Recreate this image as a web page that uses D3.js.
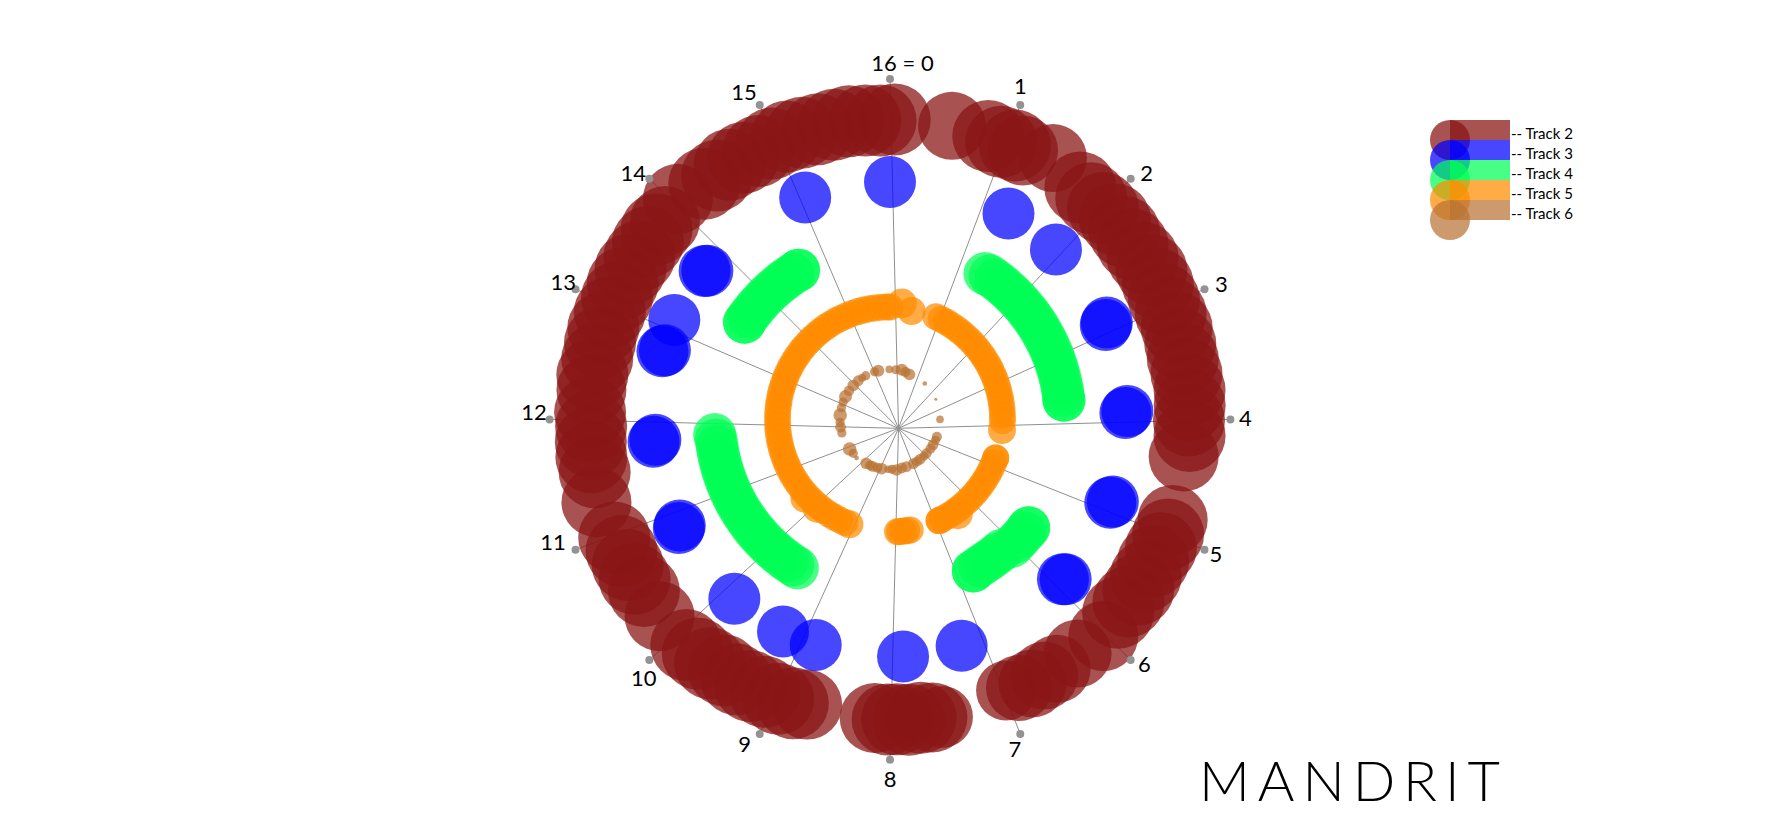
<!DOCTYPE html>
<html>
<head>
<meta charset="utf-8">
<script src="https://cdn.jsdelivr.net/npm/d3@7"></script>
<style>
html,body{margin:0;padding:0;background:#fff;}
svg{display:block;}
</style>
</head>
<body>
<svg id="chart" width="1780" height="840"></svg>
<script>
// ---------------- DATA ----------------
const tickLabels = ["16 = 0","1","2","3","4","5","6","7","8","9","10","11","12","13","14","15"];
const trackIds = [2, 3, 4, 5, 6];
const trackNames = ["Track 2","Track 3","Track 4","Track 5","Track 6"];
const trackColors = ["#8a1616", "#0000ff", "#00ff55", "#ff8c00", "#b87333"];
const trackOpacity = [0.74, 0.72, 0.72, 0.72, 0.72];

// events: [step (0..16), radial offset, size]
const track2 = [
  [12.38,1,36],[12.52,-1,36],[12.66,0,36],[12.79,1,36],[12.93,0,36],[13.07,-1,36],[13.2,0,36],[13.34,0,36],
  [13.47,-1,36],[13.61,0,36],[13.74,1,36],[13.84,0,35],
  [14.05,6,35],
  [14.3,0,36],[14.43,-1,36],[14.57,1,36],[14.7,0,36],[14.84,-1,36],[14.97,0,36],[15.11,1,36],[15.24,0,36],
  [15.38,-1,36],[15.52,0,36],[15.65,1,36],[15.79,0,36],[15.92,-1,36],[0.04,0,36],
  [0.53,0,34],
  [0.85,0,36],[0.97,-1,36],[1.09,1,36],[1.17,0,35],
  [1.42,8,34],
  [1.75,0,36],[1.88,-1,36],[2.01,0,36],[2.15,1,36],[2.28,0,36],[2.41,-1,36],[2.55,0,36],[2.68,1,36],
  [2.81,0,36],[2.95,-1,36],[3.08,0,36],[3.21,1,36],[3.35,0,36],[3.48,-1,36],[3.61,0,36],[3.75,1,36],
  [3.88,0,36],[4.01,-1,36],[4.14,0,36],
  [4.32,-4,35],
  [4.87,0,35],
  [5.0,1,36],[5.13,0,36],[5.26,-1,36],[5.4,0,36],[5.53,1,36],[5.66,0,36],[5.79,-1,36],
  [6.02,4,35],[6.28,0,34],
  [6.5,0,34],[6.62,-1,34],[6.74,0,34],[6.86,-2,33],[6.97,-5,30],
  [7.56,2,31],[7.64,1,35],[7.74,0,36],[7.84,1,36],[7.94,0,36],[8.02,0,36],[8.13,-1,35],
  [8.72,-3,35],
  [8.84,0,36],[8.97,1,36],[9.1,0,36],[9.23,1,36],[9.36,2,36],[9.49,1,36],[9.62,3,36],[9.75,3,36],[9.87,4,36],
  [10.2,3,35],
  [10.45,0,36],[10.58,1,36],[10.71,0,36],[10.84,-1,36],[10.97,0,36],
  [11.3,5,35],
  [11.55,0,36],[11.68,1,36],[11.81,0,36],[11.94,-1,36],[12.06,0,36],
  [12.25,0,35]
];

const track3 = [
  [0.0,0,26],[1.33,0,26],[1.97,0,26],[2.93,0,26],[2.95,-2,26],[3.91,0,26],[3.93,-2,26],
  [4.9,0,26],[4.92,-2,26],[5.88,0,26],[5.9,-2,26],[7.22,0,26],[7.86,0,26],[8.81,0,26],
  [9.19,0,26],[9.82,0,26],[10.79,0,26],[10.81,-2,26],[11.76,0,26],[11.78,-2,26],
  [12.74,0,26],[12.76,-2,26],[13.1,0,26],[13.72,0,26],[13.74,-2,26],[15.07,0,26]
];

const track4 = [
  [1.47,-1,21.5],[1.55,0,21.5],[1.65,0,21.5],[1.75,0,21.5],[1.85,0,21.5],[1.95,0,21.5],[2.05,0,21.5],
  [2.15,0,21.5],[2.25,0,21.5],[2.35,0,21.5],[2.45,0,21.5],[2.55,0,21.5],[2.65,0,21.5],[2.75,0,21.5],
  [2.85,0,21.5],[2.95,0,21.5],[3.05,0,21.5],[3.15,0,21.5],[3.25,0,21.5],[3.35,0,21.5],[3.45,0,21.5],
  [3.55,0,21.5],[3.65,0,21.5],[3.72,0,21.5],[3.72,0,21.5],
  [5.69,1,21.5],[5.69,1,21.5],[5.78,1,21.5],[5.87,1,21.5],[5.96,1,21.5],[6.05,1,21.5],
  [6.2,-3,21.5],[6.3,-3,21.5],[6.4,-3,21.5],[6.5,-3,21.5],[6.6,-3,21.5],[6.72,-2,21.5],[6.72,-2,21.5],
  [9.42,0,21.5],[9.5,0,21.5],[9.6,0,21.5],[9.7,0,21.5],[9.8,0,21.5],[9.9,0,21.5],[10.0,0,21.5],
  [10.1,0,21.5],[10.2,0,21.5],[10.3,0,21.5],[10.4,0,21.5],[10.5,0,21.5],[10.6,0,21.5],[10.7,0,21.5],
  [10.8,0,21.5],[10.9,0,21.5],[11.0,0,21.5],[11.1,0,21.5],[11.2,0,21.5],[11.3,0,21.5],[11.4,0,21.5],
  [11.5,0,21.5],[11.6,0,21.5],[11.7,0,21.5],[11.78,1,21.5],
  [13.5,0,21.5],[13.5,0,21.5],[13.6,0,21.5],[13.7,0,21.5],[13.8,0,21.5],[13.9,0,21.5],[14.0,0,21.5],
  [14.1,0,21.5],[14.2,0,21.5],[14.3,0,21.5],[14.4,0,21.5],[14.5,0,21.5],[14.6,0,21.5],[14.6,0,21.5]
];

const track5 = [
  [1.07,0,13.5],[1.2,0,13.5],[1.34,0,13.5],[1.47,0,13.5],[1.61,0,13.5],[1.74,0,13.5],[1.88,0,13.5],
  [2.01,0,13.5],[2.15,0,13.5],[2.28,0,13.5],[2.42,0,13.5],[2.55,0,13.5],[2.69,0,13.5],[2.82,0,13.5],
  [2.96,0,13.5],[3.09,0,13.5],[3.23,0,13.5],[3.36,0,13.5],[3.5,0,13.5],[3.63,0,13.5],[3.77,0,13.5],
  [3.9,0,13.5],[4.03,0,13.5],[4.24,0,14],
  [4.89,0,13.5],[4.89,0,13.5],[5.02,0,13.5],[5.16,0,13.5],[5.29,0,13.5],[5.43,0,13.5],[5.56,0,13.5],
  [5.7,0,13.5],[5.83,0,13.5],[5.97,0,13.5],[6.1,0,13.5],[6.24,0,13.5],[6.37,0,13.5],[6.42,4,15],
  [6.5,0,13.5],[6.64,0,13.5],[6.77,0,13.5],[6.85,0,13.5],[6.85,0,13.5],
  [7.54,0,13.5],[7.62,0,13.5],[7.7,0,13.5],[7.78,0,13.5],[7.83,0,13.5],
  [8.94,0,14],[9.05,0,13.5],[9.18,0,13.5],[9.32,0,13.5],[9.45,0,13.5],[9.59,0,13.5],[9.72,0,13.5],
  [9.75,3,14],[9.86,0,13.5],[9.99,0,13.5],[10.1,4,14],[10.13,0,13.5],[10.26,0,13.5],[10.4,0,13.5],
  [10.53,0,13.5],[10.67,0,13.5],[10.8,0,13.5],[10.94,0,13.5],[11.07,0,13.5],[11.21,0,13.5],
  [11.34,0,13.5],[11.48,0,13.5],[11.61,0,13.5],[11.75,0,13.5],[11.88,0,13.5],[12.02,0,13.5],
  [12.15,0,13.5],[12.29,0,13.5],[12.42,0,13.5],[12.56,0,13.5],[12.69,0,13.5],[12.83,0,13.5],
  [12.96,0,13.5],[13.1,0,13.5],[13.23,0,13.5],[13.37,0,13.5],[13.5,0,13.5],[13.64,0,13.5],
  [13.77,0,13.5],[13.91,0,13.5],[14.04,0,13.5],[14.18,0,13.5],[14.31,0,13.5],[14.45,0,13.5],
  [14.58,0,13.5],[14.72,0,13.5],[14.85,0,13.5],[14.99,0,13.5],[15.12,0,13.5],[15.26,0,13.5],
  [15.39,0,13.5],[15.53,0,13.5],[15.66,0,13.5],[15.8,0,13.5],[15.93,0,13.5],[0.0,0,13.5],
  [0.26,4,15],[0.5,-2,14]
];

const track6 = [
  [0.3,0,4.6],[0.59,1,6],[0.8,0,5.2],[1.04,-1,5.8],[1.96,0,2.3],[2.95,0,1.5],[4.0,0,3.8],[4.9,0,5],
  [5.1,0,4.6],[5.36,0,5.4],[5.6,0,5],[5.9,0,5],[6.1,0,4.6],[6.35,0,5.4],[6.55,0,5],[6.76,0,5.4],
  [7.15,0,5.4],[7.4,0,5.4],[7.67,1,5.8],[7.9,0,4.6],[8.1,0,3.8],[8.43,0,5.8],[8.65,0,5],[8.9,0,5.4],
  [9.05,0,5],[9.27,0,5.8],[9.82,1,2.3],[10.1,0,4.6],[10.39,0,6.8],[11.3,0,4.6],[11.6,0,5.4],[11.85,0,4.6],
  [12.22,0,6.8],[12.6,0,4.6],[12.9,0,4.6],[13.21,0,6.5],[13.55,0,5.2],[13.9,0,5.8],[14.25,0,5.4],
  [14.5,0,4],[14.71,0,4.6],[15.2,0,4.6],[15.4,0,6],[15.96,0,3.8]
];

// ---------------- LAYOUT ----------------
const CX = 890, CY = 419.4, R_LABEL = 340.4;
const SPOKE_DX = 8.5, SPOKE_DY = 8.9;
const labelNudge = [[12.5,-16.5],[0.2,-18.7],[16,-6],[17,-5.3],[15,-1.6],[11.4,4.3],[13.7,3.9],[-5.3,15],
                    [0,19],[-15,9.7],[-5.6,17.6],[-22.5,-8],[-15.6,-7],[-12.2,-7],[-16,-6],[-15.7,-13]];

const svg = d3.select("#chart");
const angle = d3.scaleLinear().domain([0, 16]).range([0, 2 * Math.PI]);
const radius = d3.scaleLinear().domain([2, 6]).range([300, 50]);
const color = d3.scaleOrdinal().domain(trackIds).range(trackColors);
const opacity = d3.scaleOrdinal().domain(trackIds).range(trackOpacity);
const ticks = d3.range(tickLabels.length);

const g = svg.append("g").attr("transform", `translate(${CX},${CY})`);

// spokes
g.append("g").selectAll("line").data(ticks).join("line")
  .attr("x1", SPOKE_DX).attr("y1", SPOKE_DY)
  .attr("x2", k => d3.pointRadial(angle(k), R_LABEL)[0])
  .attr("y2", k => d3.pointRadial(angle(k), R_LABEL)[1])
  .attr("stroke", "#8f8f8f").attr("stroke-width", 1);

// tracks
[track2, track3, track4, track5, track6].forEach((data, i) => {
  const id = trackIds[i];
  g.append("g").selectAll("circle").data(data).join("circle")
    .attr("cx", d => d3.pointRadial(angle(d[0]), radius(id) + d[1])[0])
    .attr("cy", d => d3.pointRadial(angle(d[0]), radius(id) + d[1])[1])
    .attr("r", d => d[2])
    .attr("fill", color(id))
    .attr("fill-opacity", opacity(id));
});

// tick dots and labels
g.append("g").selectAll("circle").data(ticks).join("circle")
  .attr("cx", k => d3.pointRadial(angle(k), R_LABEL)[0])
  .attr("cy", k => d3.pointRadial(angle(k), R_LABEL)[1])
  .attr("r", 4).attr("fill", "#939393");

g.append("g").selectAll("text").data(ticks).join("text")
  .attr("x", k => d3.pointRadial(angle(k), R_LABEL)[0] + labelNudge[k][0])
  .attr("y", k => d3.pointRadial(angle(k), R_LABEL)[1] + labelNudge[k][1] + 8)
  .attr("text-anchor", "middle")
  .attr("font-family", "Lato, 'DejaVu Sans', sans-serif")
  .attr("font-size", 22)
  .attr("fill", "#000")
  .text(k => tickLabels[k]);

// legend
const legend = svg.append("g").attr("transform", "translate(1450,120)");
const legendRow = d3.scaleLinear().domain([0, 1]).range([0, 20]);
trackIds.forEach((id, i) => {
  legend.append("rect").attr("x", 0).attr("y", legendRow(i)).attr("width", 60).attr("height", 20)
    .attr("fill", color(id)).attr("fill-opacity", opacity(id));
  legend.append("circle").attr("cx", 0).attr("cy", legendRow(i) + 20).attr("r", 20)
    .attr("fill", color(id)).attr("fill-opacity", opacity(id));
  legend.append("text").attr("x", 61).attr("y", legendRow(i) + 19.3)
    .attr("font-family", "Lato, 'DejaVu Sans', sans-serif").attr("font-size", 15)
    .attr("fill", "#000").text("-- " + trackNames[i]);
});

// title
svg.append("text").attr("x", 1199).attr("y", 800.7)
  .attr("font-family", "Lato, 'DejaVu Sans', sans-serif").attr("font-weight", 300)
  .attr("font-size", 56).attr("textLength", 301).attr("lengthAdjust", "spacing")
  .attr("fill", "#000").text("MANDRIT");
</script>
</body>
</html>
